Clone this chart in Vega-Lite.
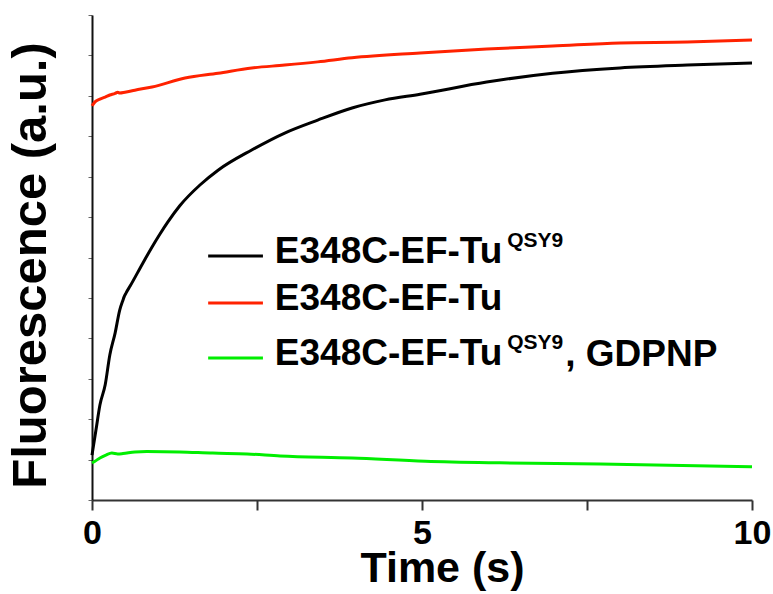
{
  "$schema": "https://vega.github.io/schema/vega-lite/v6.json",
  "width": 660,
  "height": 485,
  "autosize": "none",
  "padding": {"left": 92, "top": 15, "right": 21, "bottom": 94},
  "background": "white",
  "config": {
    "view": {"stroke": null},
    "font": "Liberation Sans"
  },
  "datasets": {
    "curves": [
      {"series": "black", "t": 0, "v": 1.11},
      {"series": "black", "t": 0.06, "v": 1.73},
      {"series": "black", "t": 0.12, "v": 2.35},
      {"series": "black", "t": 0.2, "v": 2.85},
      {"series": "black", "t": 0.27, "v": 3.59},
      {"series": "black", "t": 0.35, "v": 4.13},
      {"series": "black", "t": 0.42, "v": 4.7},
      {"series": "black", "t": 0.47, "v": 4.95},
      {"series": "black", "t": 0.485, "v": 5.02},
      {"series": "black", "t": 0.515, "v": 5.12},
      {"series": "black", "t": 0.58, "v": 5.3},
      {"series": "black", "t": 0.77, "v": 5.86},
      {"series": "black", "t": 0.91, "v": 6.26},
      {"series": "black", "t": 1.03, "v": 6.58},
      {"series": "black", "t": 1.15, "v": 6.88},
      {"series": "black", "t": 1.33, "v": 7.28},
      {"series": "black", "t": 1.64, "v": 7.8},
      {"series": "black", "t": 1.91, "v": 8.16},
      {"series": "black", "t": 2.42, "v": 8.66},
      {"series": "black", "t": 2.92, "v": 9.08},
      {"series": "black", "t": 3.42, "v": 9.4},
      {"series": "black", "t": 3.94, "v": 9.7},
      {"series": "black", "t": 4.44, "v": 9.9},
      {"series": "black", "t": 4.97, "v": 10.04},
      {"series": "black", "t": 5.98, "v": 10.34},
      {"series": "black", "t": 6.98, "v": 10.56},
      {"series": "black", "t": 8.0, "v": 10.69},
      {"series": "black", "t": 9.02, "v": 10.76},
      {"series": "black", "t": 10.0, "v": 10.81},
      {"series": "red", "t": 0, "v": 9.75},
      {"series": "red", "t": 0.045, "v": 9.85},
      {"series": "red", "t": 0.12, "v": 9.92},
      {"series": "red", "t": 0.2, "v": 9.97},
      {"series": "red", "t": 0.27, "v": 10.02},
      {"series": "red", "t": 0.35, "v": 10.06},
      {"series": "red", "t": 0.39, "v": 10.09},
      {"series": "red", "t": 0.42, "v": 10.07},
      {"series": "red", "t": 0.5, "v": 10.09},
      {"series": "red", "t": 0.65, "v": 10.14},
      {"series": "red", "t": 0.91, "v": 10.22},
      {"series": "red", "t": 1.41, "v": 10.44},
      {"series": "red", "t": 1.91, "v": 10.56},
      {"series": "red", "t": 2.42, "v": 10.69},
      {"series": "red", "t": 2.92, "v": 10.76},
      {"series": "red", "t": 3.42, "v": 10.84},
      {"series": "red", "t": 3.94, "v": 10.94},
      {"series": "red", "t": 4.97, "v": 11.06},
      {"series": "red", "t": 5.98, "v": 11.16},
      {"series": "red", "t": 6.98, "v": 11.23},
      {"series": "red", "t": 8.0, "v": 11.31},
      {"series": "red", "t": 9.02, "v": 11.33},
      {"series": "red", "t": 10.0, "v": 11.38},
      {"series": "green", "t": 0, "v": 0.92},
      {"series": "green", "t": 0.045, "v": 0.96},
      {"series": "green", "t": 0.12, "v": 1.04},
      {"series": "green", "t": 0.21, "v": 1.11},
      {"series": "green", "t": 0.3, "v": 1.16},
      {"series": "green", "t": 0.39, "v": 1.14},
      {"series": "green", "t": 0.47, "v": 1.15},
      {"series": "green", "t": 0.65, "v": 1.19},
      {"series": "green", "t": 0.83, "v": 1.2},
      {"series": "green", "t": 1.33, "v": 1.19},
      {"series": "green", "t": 1.83, "v": 1.16},
      {"series": "green", "t": 2.35, "v": 1.14},
      {"series": "green", "t": 2.85, "v": 1.09},
      {"series": "green", "t": 3.94, "v": 1.04},
      {"series": "green", "t": 5.05, "v": 0.96},
      {"series": "green", "t": 6.18, "v": 0.92},
      {"series": "green", "t": 7.7, "v": 0.89},
      {"series": "green", "t": 10.0, "v": 0.82}
    ],
    "legend": [
      {"series": "black", "rank": 1, "label": "E348C-EF-Tu", "sup": "QSY9", "suffix": ""},
      {"series": "red", "rank": 2, "label": "E348C-EF-Tu", "sup": "", "suffix": ""},
      {"series": "green", "rank": 3, "label": "E348C-EF-Tu", "sup": "QSY9", "suffix": ", GDPNP"}
    ]
  },
  "layer": [
    {
      "data": {"name": "curves"},
      "mark": {"type": "line", "strokeWidth": 3, "interpolate": "monotone"},
      "encoding": {
        "x": {
          "field": "t", "type": "quantitative",
          "scale": {"domain": [0, 10], "nice": false},
          "axis": {
            "values": [0, 2.5, 5, 7.5, 10],
            "labelExpr": "datum.value % 5 == 0 ? '' + datum.value : ''",
            "title": "Time (s)",
            "titleFont": "Liberation Sans", "titleFontWeight": "bold", "titleFontSize": 43,
            "titleColor": "black",
            "titleX": 350, "titleY": 81, "titleBaseline": "alphabetic", "titleAlign": "center",
            "labelFont": "Liberation Sans", "labelFontWeight": "bold", "labelFontSize": 34,
            "labelColor": "black", "labelPadding": 6, "labelFlush": false, "labelOverlap": false,
            "tickSize": 10, "tickColor": "#333333", "tickWidth": 2,
            "domainColor": "#333333", "domainWidth": 2, "grid": false
          }
        },
        "y": {
          "field": "v", "type": "quantitative",
          "scale": {"domain": [0, 12], "nice": false},
          "axis": {
            "values": [0, 1, 2, 3, 4, 5, 6, 7, 8, 9, 10, 11, 12],
            "labels": false,
            "title": "Fluorescence (a.u.)",
            "titleFont": "Liberation Sans", "titleFontWeight": "bold", "titleFontSize": 49,
            "titleColor": "black",
            "titleX": -47, "titleY": 250, "titleAngle": -90, "titleBaseline": "alphabetic", "titleAlign": "center",
            "tickSize": 4, "tickColor": "#666666", "tickWidth": 1,
            "domainColor": "#111111", "domainWidth": 2, "grid": false
          }
        },
        "color": {
          "field": "series", "type": "nominal",
          "scale": {"domain": ["black", "red", "green"], "range": ["#000000", "#ff2200", "#00ee00"]},
          "legend": null
        },
        "order": {"field": "t", "type": "quantitative"}
      }
    },
    {
      "data": {"name": "legend"},
      "mark": {"type": "rule", "strokeWidth": 3},
      "encoding": {
        "x": {"datum": 1.76, "type": "quantitative"},
        "x2": {"datum": 2.59},
        "y": {"field": "rank", "type": "quantitative", "scale": {"domain": [1, 2, 3], "range": [241, 288, 343], "nice": false, "zero": false}, "axis": null},
        "color": {"field": "series", "type": "nominal", "legend": null}
      }
    },
    {
      "data": {"name": "legend"},
      "mark": {"type": "text", "align": "left", "baseline": "alphabetic", "dy": 7, "font": "Liberation Sans", "fontWeight": "bold", "fontSize": 37, "color": "black"},
      "encoding": {
        "x": {"datum": 2.77, "type": "quantitative"},
        "y": {"field": "rank", "type": "quantitative", "scale": {"domain": [1, 2, 3], "range": [241, 288, 343], "nice": false, "zero": false}, "axis": null},
        "text": {"field": "label"}
      }
    },
    {
      "data": {"name": "legend"},
      "mark": {"type": "text", "align": "left", "baseline": "alphabetic", "dy": -9.5, "font": "Liberation Sans", "fontWeight": "bold", "fontSize": 21, "color": "black"},
      "encoding": {
        "x": {"datum": 6.29, "type": "quantitative"},
        "y": {"field": "rank", "type": "quantitative", "scale": {"domain": [1, 2, 3], "range": [241, 288, 343], "nice": false, "zero": false}, "axis": null},
        "text": {"field": "sup"}
      }
    },
    {
      "data": {"name": "legend"},
      "mark": {"type": "text", "align": "left", "baseline": "alphabetic", "dy": 8, "font": "Liberation Sans", "fontWeight": "bold", "fontSize": 37, "color": "black"},
      "encoding": {
        "x": {"datum": 7.17, "type": "quantitative"},
        "y": {"field": "rank", "type": "quantitative", "scale": {"domain": [1, 2, 3], "range": [241, 288, 343], "nice": false, "zero": false}, "axis": null},
        "text": {"field": "suffix"}
      }
    }
  ],
  "resolve": {"scale": {"y": "independent"}, "axis": {"y": "independent"}}
}
